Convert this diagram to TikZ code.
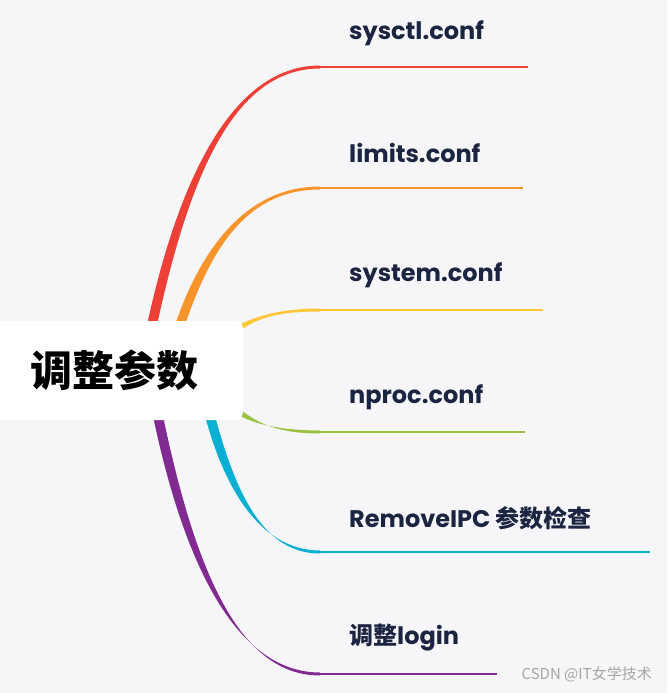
\documentclass[tikz,border=0pt]{standalone}
\usepackage{fontspec}
\setmainfont{Poppins}
\newfontfamily\cjk{Noto Sans CJK SC}
\definecolor{bg}{HTML}{F6F6F8}
\definecolor{txt}{HTML}{1B2440}
\definecolor{cR}{HTML}{EE4036}
\definecolor{cO}{HTML}{F7952C}
\definecolor{cY}{HTML}{FCC83A}
\definecolor{cG}{HTML}{9CC141}
\definecolor{cC}{HTML}{0AAFD4}
\definecolor{cP}{HTML}{812A92}
\newcommand\brn[5]{%
 \fill[#1] (#2-5,#3) .. controls ({#2-5+0.2*(320-#2)},{#3+0.6*(#4-#3)}) and ({#2+0.5*(320-#2)},{#4-1.5}) .. (320,{#4-1.5})
   -- (320,{#4+1.5}) .. controls ({#2+0.5*(320-#2)},{#4+1.5}) and ({#2+5+0.2*(320-#2)},{#3+0.6*(#4-#3)}) .. (#2+5,#3) -- cycle;
 \draw[#1,line width=2pt] (319,#4) -- (#5,#4);}
\tikzset{lab/.style={anchor=west,text=txt,font=\fontsize{24}{27}\selectfont\bfseries,inner sep=0pt}}
\begin{document}
\begin{tikzpicture}[x=1pt,y=-1pt]
\fill[bg] (0,0) rectangle (667,693);
\useasboundingbox (0,0) rectangle (667,693);
\brn{cR}{152}{325}{67}{528}
\brn{cO}{180}{325}{188}{523}
\brn{cY}{236}{330}{310}{543}
\brn{cG}{236}{410}{432}{525}
\brn{cC}{210}{416}{552}{650}
\brn{cP}{158}{416}{674}{497}
\fill[white,rounded corners=8pt] (-10,321) rectangle (243,420);
\node[anchor=west,inner sep=0pt,font=\cjk\fontsize{42}{46}\selectfont\bfseries] (c) at (30,370) {调整参数};
\node[lab] (l1) at (349,33) {sysctl.conf};
\node[lab] (l2) at (349,153) {limits.conf};
\node[lab] (l3) at (349,275) {system.conf};
\node[lab] (l4) at (349,397) {nproc.conf};
\node[lab] (l5) at (349,518) {RemoveIPC {\cjk 参数检查}};
\node[lab] (l6) at (349,638) {{\cjk 调整}login};
\node[anchor=east,inner sep=0pt,text=gray!70,font=\cjk\fontsize{15}{17}\selectfont] (w) at (652,674) {CSDN @IT女学技术};
\end{tikzpicture}
\end{document}
